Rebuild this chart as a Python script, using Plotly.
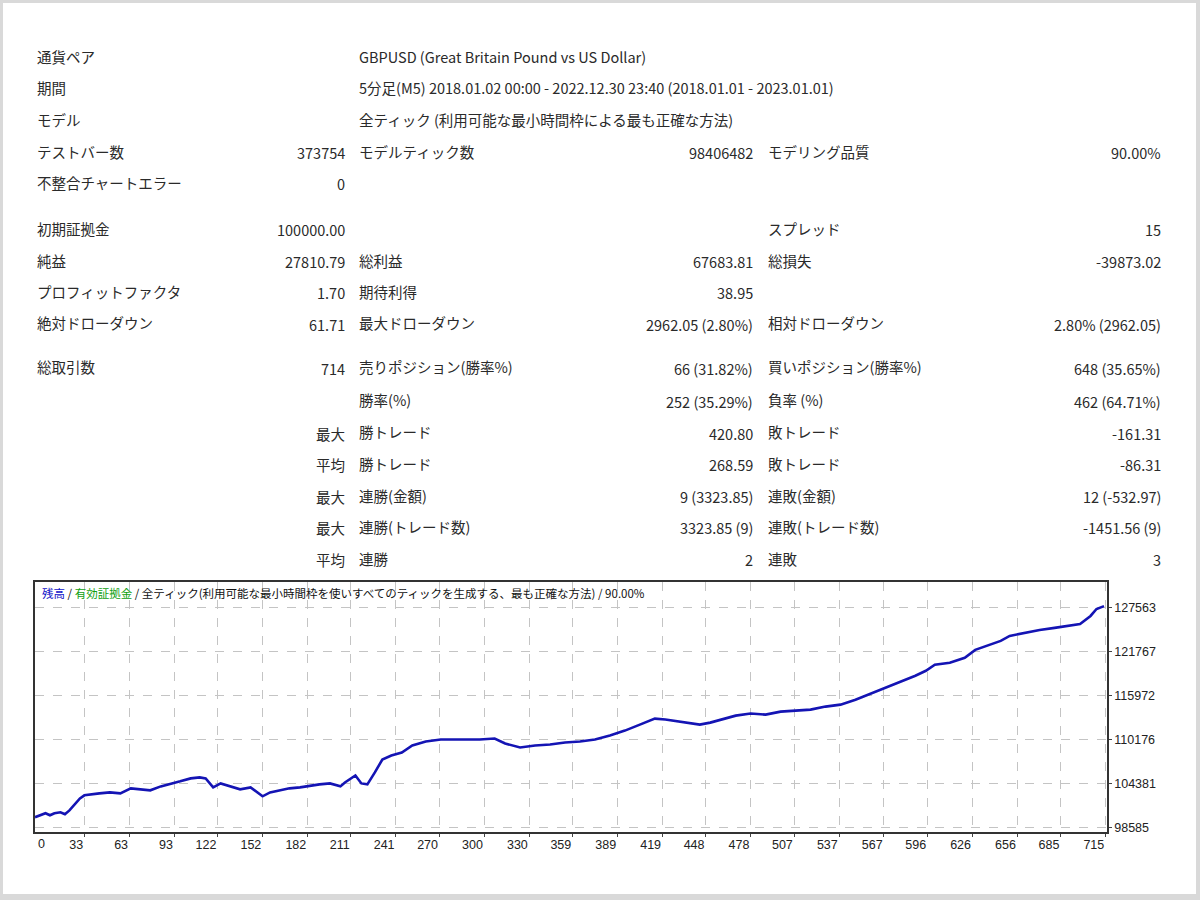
import plotly.graph_objects as go

# ---------------- data ----------------
col1_labels = ["通貨ペア", "期間", "モデル", "テストバー数", "不整合チャートエラー",
               "初期証拠金", "純益", "プロフィットファクタ", "絶対ドローダウン",
               "総取引数", "", "", "", "", "", ""]
col1_values = ["", "", "", "373754", "0", "100000.00", "27810.79", "1.70", "61.71",
               "714", "", "最大", "平均", "最大", "最大", "平均"]
col2_labels = ["GBPUSD (Great Britain Pound vs US Dollar)",
               "5分足(M5) 2018.01.02 00:00 - 2022.12.30 23:40 (2018.01.01 - 2023.01.01)",
               "全ティック (利用可能な最小時間枠による最も正確な方法)",
               "モデルティック数", "", "", "総利益", "期待利得", "最大ドローダウン",
               "売りポジション(勝率%)", "勝率(%)", "勝トレード", "勝トレード",
               "連勝(金額)", "連勝(トレード数)", "連勝"]
col2_values = ["", "", "", "98406482", "", "", "67683.81", "38.95", "2962.05 (2.80%)",
               "66 (31.82%)", "252 (35.29%)", "420.80", "268.59", "9 (3323.85)",
               "3323.85 (9)", "2"]
col3_labels = ["", "", "", "モデリング品質", "", "スプレッド", "総損失", "", "相対ドローダウン",
               "買いポジション(勝率%)", "負率 (%)", "敗トレード", "敗トレード",
               "連敗(金額)", "連敗(トレード数)", "連敗"]
col3_values = ["", "", "", "90.00%", "", "15", "-39873.02", "", "2.80% (2962.05)",
               "648 (35.65%)", "462 (64.71%)", "-161.31", "-86.31", "12 (-532.97)",
               "-1451.56 (9)", "3"]

chart_legend = ('<span style="color:#1010c8">残高</span> / '
                '<span style="color:#10a010">有効証拠金</span> / '
                '全ティック(利用可能な最小時間枠を使いすべてのティックを生成する、最も正確な方法) / 90.00%')

trade_no = [0, 3, 7, 10, 13, 17, 20, 23, 27, 30, 33, 37, 43, 50, 57, 64, 70, 77, 84, 90,
            97, 104, 110, 114, 119, 124, 130, 137, 144, 152, 157, 164, 170, 177, 184,
            190, 197, 204, 207, 214, 218, 222, 227, 232, 238, 245, 252, 261, 271, 284,
            297, 307, 314, 324, 334, 344, 354, 364, 374, 384, 394, 404, 414, 421, 431,
            438, 444, 451, 458, 468, 478, 488, 498, 508, 518, 528, 538, 548, 558, 568,
            578, 588, 595, 601, 611, 621, 628, 635, 645, 651, 661, 671, 681, 691, 698,
            705, 709, 714]
balance = [100000, 100250, 100520, 100250, 100520, 100650, 100380, 100900, 101830, 102480,
           102880, 103010, 103140, 103270, 103140, 103800, 103670, 103540, 104060, 104320,
           104720, 105110, 105240, 105110, 103930, 104450, 104060, 103670, 103930, 102750,
           103270, 103540, 103800, 103930, 104190, 104320, 104450, 104060, 104580, 105500,
           104450, 104320, 105900, 107600, 108130, 108520, 109440, 109970, 110230, 110230,
           110230, 110360, 109710, 109180, 109440, 109570, 109840, 109970, 110230, 110760,
           111410, 112200, 112990, 112860, 112600, 112330, 112200, 112460, 112860, 113380,
           113650, 113510, 113910, 114040, 114170, 114570, 114830, 115480, 116270, 117060,
           117850, 118630, 119290, 120080, 120340, 121000, 122040, 122570, 123230, 123880,
           124280, 124670, 124940, 125200, 125460, 126510, 127430, 127810]

x_tick_labels = [33, 63, 93, 122, 152, 182, 211, 241, 270, 300, 330, 359, 389, 419, 448,
                 478, 507, 537, 567, 596, 626, 656, 685, 715]
y_tick_values = [98585, 104381, 110176, 115972, 121767, 127563]

# ---------------- layout constants (pixels) ----------------
W, H = 1200, 900
row_y = [57, 88, 120, 152, 183, 229, 261, 292, 324, 368, 401, 433, 465, 497, 528, 560]
c1_label_x, c1_value_x = 35, 347
c2_label_x, c2_value_x = 357, 755
c3_label_x, c3_value_x = 766, 1163
plot_l, plot_r, plot_t, plot_b = 35, 1107, 584, 835

TEXT = "#2a2a2a"
FONT = "Noto Sans CJK JP"
FS = 14.5


def px(x):
    return x / W


def py(y):
    return 1 - y / H


annotations = []


def add_text(text, x, y, anchor, dy=0.0):
    if not text:
        return
    annotations.append(dict(
        text=text, x=px(x), y=py(y + dy), xref="paper", yref="paper",
        xanchor=anchor, yanchor="middle", showarrow=False,
        font=dict(family=FONT, size=FS, color=TEXT)))


for i, yy in enumerate(row_y):
    add_text(col1_labels[i], c1_label_x, yy, "left")
    add_text(col1_values[i], c1_value_x, yy, "right", 1.5)
    add_text(col2_labels[i], c2_label_x, yy, "left")
    add_text(col2_values[i], c2_value_x, yy, "right", 1.5)
    add_text(col3_labels[i], c3_label_x, yy, "left")
    add_text(col3_values[i], c3_value_x, yy, "right", 1.5)

# chart legend line
annotations.append(dict(
    text=chart_legend, x=px(40), y=py(595), xref="paper", yref="paper",
    xanchor="left", yanchor="middle", showarrow=False,
    font=dict(family=FONT, size=11.5, color="#111111")))
# the "0" label at the left end of the x axis
annotations.append(dict(
    text="0", x=px(36), y=py(847), xref="paper", yref="paper",
    xanchor="left", yanchor="middle", showarrow=False,
    font=dict(family="Liberation Sans", size=12.5, color="#222222")))

fig = go.Figure()
fig.add_trace(go.Scatter(
    x=trade_no, y=balance, mode="lines",
    line=dict(color="#1414b4", width=2.6, shape="linear"),
    hoverinfo="skip", showlegend=False))

y_px_per_unit = (830.7 - 610.0) / (y_tick_values[-1] - y_tick_values[0])
y_min = y_tick_values[0] - (plot_b - 830.7) / y_px_per_unit
y_max = y_tick_values[-1] + (610.0 - plot_t) / y_px_per_unit

fig.update_layout(
    width=W, height=H,
    margin=dict(l=0, r=0, t=0, b=0),
    paper_bgcolor="#d9d9d9",
    plot_bgcolor="white",
    showlegend=False,
    annotations=annotations,
    shapes=[dict(type="rect", xref="paper", yref="paper",
                 x0=px(3), x1=px(1196), y0=py(897), y1=py(3),
                 fillcolor="white", line=dict(width=0), layer="below")],
    xaxis=dict(
        domain=[px(plot_l), px(plot_r)],
        range=[0, 716],
        tickmode="array", tickvals=x_tick_labels, ticktext=[str(v) for v in x_tick_labels],
        ticks="outside", ticklen=3, tickcolor="#444444", tickwidth=1,
        ticklabelposition="outside left",
        tickfont=dict(family="Liberation Sans", size=12.5, color="#222222"),
        showgrid=True, gridcolor="#c4c4c4", gridwidth=1, griddash="dash",
        showline=True, linecolor="#333333", linewidth=1.5, mirror=True,
        zeroline=False, fixedrange=True,
    ),
    yaxis=dict(
        domain=[py(plot_b), py(plot_t)],
        range=[y_min, y_max],
        side="right",
        tickmode="array", tickvals=y_tick_values, ticktext=[str(v) for v in y_tick_values],
        ticks="outside", ticklen=3, tickcolor="#444444", tickwidth=1,
        tickfont=dict(family="Liberation Sans", size=12.5, color="#222222"),
        showgrid=True, gridcolor="#c4c4c4", gridwidth=1, griddash="dash",
        showline=True, linecolor="#333333", linewidth=1.5, mirror=True,
        zeroline=False, fixedrange=True,
    ),
)

fig.write_html("out.html")
